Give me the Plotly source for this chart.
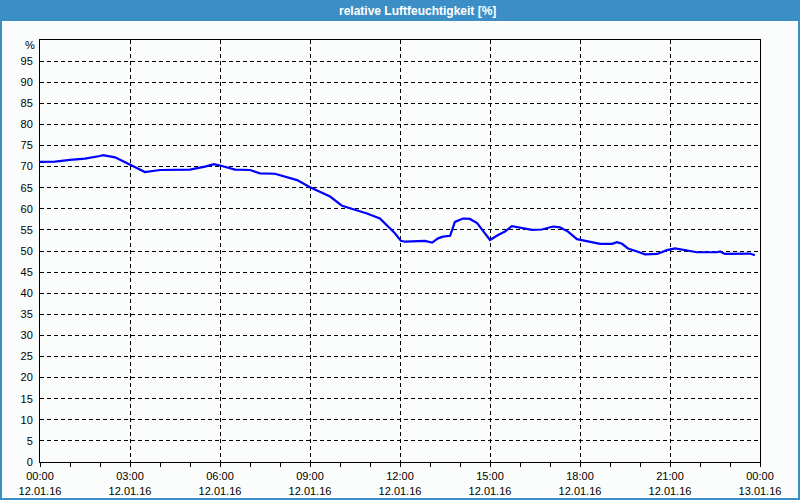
import pandas as pd
import plotly.graph_objects as go

# hours since 12.01.16 00:00 and relative humidity in %
hours = [0.0, 0.5, 1.0, 1.5, 2.0, 2.1, 2.5, 3.0, 3.5, 4.0, 4.5, 5.0, 5.5, 5.8,
         6.03, 6.5, 7.0, 7.33, 7.83, 8.23, 8.57, 9.0, 9.33, 9.67, 10.07, 10.43,
         10.9, 11.33, 11.5, 11.67, 11.83, 12.03, 12.17, 12.83, 13.07, 13.27,
         13.43, 13.67, 13.83, 14.1, 14.33, 14.57, 14.77, 15.0, 15.27, 15.5,
         15.73, 16.07, 16.4, 16.73, 17.1, 17.33, 17.6, 17.9, 18.17, 18.67,
         19.07, 19.23, 19.4, 19.6, 19.9, 20.17, 20.57, 20.9, 21.17, 21.57,
         21.9, 22.57, 22.67, 22.83, 23.57, 23.67, 23.83]
humidity = [71.1, 71.2, 71.6, 71.9, 72.5, 72.7, 72.2, 70.4, 68.7, 69.2, 69.2, 69.3, 70.0, 70.6,
            70.2, 69.3, 69.2, 68.4, 68.3, 67.4, 66.8, 65.1, 64.1, 62.9, 60.7, 59.9,
            58.9, 57.7, 56.5, 55.4, 54.2, 52.4, 52.2, 52.4, 52.0, 53.0,
            53.4, 53.6, 56.9, 57.7, 57.6, 56.6, 54.6, 52.6, 53.8, 54.6,
            55.9, 55.5, 55.0, 55.1, 55.8, 55.6, 54.6, 52.8, 52.4, 51.7,
            51.7, 52.1, 51.7, 50.6, 49.9, 49.2, 49.3, 50.2, 50.6, 50.1,
            49.7, 49.7, 49.9, 49.3, 49.3, 49.4, 49.0]

start = pd.Timestamp("2016-01-12 00:00")
end = pd.Timestamp("2016-01-13 00:00")
times = start + pd.to_timedelta(hours, unit="h")

W, H = 800, 500
L, R, T, B = 40, 40, 40, 38
pw, ph = W - L - R, H - T - B

def px(x):
    return (x - L) / pw

def py(y):
    return (H - B - y) / ph

blue = "#3c8fc6"
bg = "#fafdfc"
font = "Liberation Sans"

fig = go.Figure()
fig.add_trace(go.Scatter(x=times, y=humidity, mode="lines",
                         line=dict(color="#0000ff", width=2.2)))

fig.update_layout(
    width=W, height=H,
    margin=dict(l=L, r=R, t=T, b=B, autoexpand=False),
    paper_bgcolor=bg, plot_bgcolor=bg,
    showlegend=False,
    font=dict(family=font, size=11, color="black"),
)

fig.update_xaxes(
    type="date", range=[start, end],
    dtick=3 * 3600000, tick0=start,
    tickformat="%H:%M<br>%d.%m.%y",
    ticks="outside", ticklen=4, tickcolor="black",
    minor=dict(dtick=3600000, ticks="outside", ticklen=4, tickcolor="black", showgrid=False),
    showgrid=True, gridcolor="black", griddash="4px,3px", gridwidth=1,
    showline=True, linecolor="black", linewidth=1, mirror=True,
    zeroline=False, automargin=False,
)
fig.update_yaxes(
    range=[0, 100], tickmode="array",
    tickvals=list(range(0, 100, 5)),
    ticks="", ticklabelstandoff=4,
    showgrid=True, gridcolor="black", griddash="4px,3px", gridwidth=1,
    showline=True, linecolor="black", linewidth=1, mirror=True,
    zeroline=False, automargin=False,
)

# title bar and window frame
fig.add_shape(type="rect", xref="paper", yref="paper",
              x0=px(0), x1=px(W), y0=py(21), y1=py(0),
              fillcolor=blue, line_width=0, layer="below")
fig.add_shape(type="rect", xref="paper", yref="paper",
              x0=px(1), x1=px(W - 1), y0=py(H - 1), y1=py(1),
              line=dict(color=blue, width=2), fillcolor="rgba(0,0,0,0)")

fig.add_annotation(text="<b>relative Luftfeuchtigkeit [%]</b>",
                   xref="paper", yref="paper", x=px(417), y=py(11),
                   xanchor="center", yanchor="middle",
                   showarrow=False, font=dict(color="white", size=12, family=font))
fig.add_annotation(text="%", xref="paper", yref="paper", x=px(37), y=py(45),
                   xanchor="right", yanchor="middle",
                   showarrow=False, font=dict(size=11))

# the page gets a default 8px body margin; drop it so the figure fills the window
fig.write_html("out.html", config={"displayModeBar": False},
               post_script="document.body.style.margin='0';")
